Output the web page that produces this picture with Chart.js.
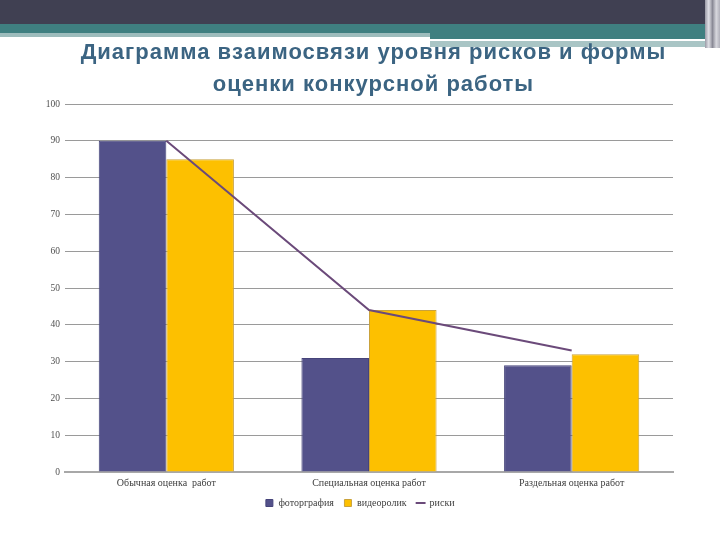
<!DOCTYPE html>
<html>
<head>
<meta charset="utf-8">
<script src="https://cdn.jsdelivr.net/npm/chart.js@4/dist/chart.umd.min.js"></script>
<style>
  html, body { margin:0; padding:0; background:#fff; }
  #wrap { position:relative; width:720px; height:540px; overflow:hidden; background:#fff; }
  .deco { position:absolute; }
  #title { position:absolute; left:0; top:36px; width:747px; text-align:center;
    font-family:"Liberation Sans", Arial, sans-serif; font-weight:bold; font-size:22px;
    letter-spacing:1px; line-height:32px; color:#3b6482; }
  #c { position:absolute; left:0; top:0; }
</style>
</head>
<body>
<div id="wrap">
  <div class="deco" style="left:0;top:0;width:720px;height:24px;background:#404052"></div>
  <div class="deco" style="left:0;top:24px;width:705px;height:9px;background:#3f7f80"></div>
  <div class="deco" style="left:0;top:33px;width:430px;height:4px;background:#9dbcbc"></div>
  <div class="deco" style="left:430px;top:33px;width:275px;height:6px;background:#3f7f80"></div>
  <div class="deco" style="left:430px;top:39px;width:237px;height:2px;background:#ffffff"></div>
  <div class="deco" style="left:430px;top:41px;width:275px;height:6px;background:#a9c5c5"></div>
  <div class="deco" style="left:705px;top:0;width:15px;height:48px;background:linear-gradient(to right,#9a9aa6,#e0e0e6,#8a8a96,#d8d8de,#b0b0ba)"></div>
  <canvas id="c" width="720" height="540"></canvas>
  <div id="title">Диаграмма взаимосвязи уровня рисков и формы<br>оценки конкурсной работы</div>
</div>
<script>
const categories = ["Обычная оценка  работ", "Специальная оценка работ", "Раздельная оценка работ"];
const photoValues = [90, 31, 29];
const videoValues = [85, 44, 32];
const riskValues = [90, 44, 33];
const yTicks = [0, 10, 20, 30, 40, 50, 60, 70, 80, 90, 100];

const serif = '"Liberation Serif", "DejaVu Serif", serif';

new Chart(document.getElementById('c'), {
  type: 'bar',
  data: {
    labels: categories,
    datasets: [
      { type: 'line', label: 'риски', data: riskValues, borderColor: '#6b4a7a', backgroundColor: '#6b4a7a',
        borderWidth: 2, pointRadius: 0, pointStyle: 'line', tension: 0, order: 0 },
      { label: 'фоторграфия', data: photoValues, backgroundColor: '#53518a', borderColor: '#46447a',
        borderWidth: 1, pointStyle: 'rect', order: 1 },
      { label: 'видеоролик', data: videoValues, backgroundColor: '#fdc000', borderColor: '#c9a23c',
        borderWidth: 1, pointStyle: 'rect', order: 1 }
    ]
  },
  options: {
    responsive: false,
    animation: false,
    layout: { padding: { top: 104, left: 0, right: 0, bottom: 22 } },
    datasets: { bar: { categoryPercentage: 0.667, barPercentage: 1.0 } },
    scales: {
      x: {
        grid: { display: false, drawTicks: false },
        border: { display: true, color: '#a8a8a8', width: 2 },
        ticks: { font: { family: serif, size: 10 }, color: '#404040', padding: 5, maxRotation: 0 },
        afterFit: s => { s.height = 16; }
      },
      y: {
        min: 0, max: 100,
        afterBuildTicks: s => { s.ticks = yTicks.map(v => ({ value: v })); },
        grid: { color: '#9a9a9a', lineWidth: 1, drawTicks: false },
        border: { display: false },
        ticks: { font: { family: serif, size: 9.5 }, color: '#505050', padding: 5 },
        afterFit: s => { s.width = 65; }
      },
      yR: {
        position: 'right',
        grid: { display: false, drawTicks: false },
        border: { display: false },
        ticks: { display: false },
        afterFit: s => { s.width = 47; }
      }
    },
    plugins: {
      legend: {
        position: 'bottom',
        labels: {
          usePointStyle: true,
          boxWidth: 8, boxHeight: 7,
          font: { family: serif, size: 10 }, color: '#404040', padding: 10,
          sort: (a, b) => {
            const ord = { 'фоторграфия': 0, 'видеоролик': 1, 'риски': 2 };
            return ord[a.text] - ord[b.text];
          }
        }
      },
      tooltip: { enabled: false }
    }
  }
});
</script>
</body>
</html>
